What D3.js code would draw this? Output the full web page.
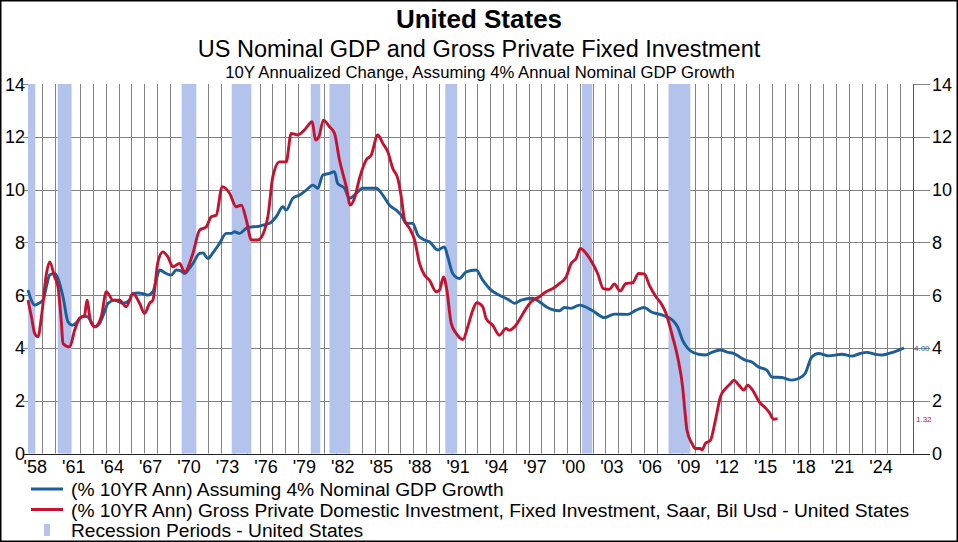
<!DOCTYPE html>
<html><head><meta charset="utf-8">
<script src="https://cdn.jsdelivr.net/npm/d3@7/dist/d3.min.js"></script>
<style>
html,body{margin:0;padding:0;background:#fff;}
svg{display:block;font-family:"Liberation Sans",Arial,sans-serif;}
</style></head>
<body><svg id="c" width="958" height="542"></svg>
<script>
// ---- data ----
const gdpYears = [1957.93,1958.2,1958.45,1958.75,1959.1,1959.4,1959.62,1960.0,1960.27,1960.66,1961.05,1961.39,1961.7,1961.96,1962.3,1962.6,1962.9,1963.13,1963.52,1963.85,1964.17,1964.7,1965.0,1965.34,1965.86,1966.1,1966.5,1966.9,1967.29,1967.68,1967.95,1968.2,1968.72,1969.1,1969.5,1969.8,1970.15,1970.5,1970.8,1971.32,1971.58,1971.97,1972.36,1972.88,1973.4,1973.8,1974.05,1974.44,1974.96,1975.48,1975.9,1976.26,1976.78,1977.3,1977.82,1978.08,1978.6,1979.12,1979.65,1980.16,1980.55,1980.94,1981.46,1981.85,1982.1,1982.63,1983.02,1983.41,1984.06,1984.58,1985.1,1985.62,1986.14,1986.67,1987.06,1987.45,1987.96,1988.35,1988.87,1989.26,1989.91,1990.43,1990.69,1991.08,1991.6,1992.13,1992.9,1993.42,1994.07,1994.72,1995.5,1995.9,1996.42,1997.32,1997.85,1998.37,1999.4,1999.8,2000.3,2000.96,2002.0,2002.91,2003.69,2004.73,2005.38,2006.03,2006.55,2007.46,2008.24,2008.63,2009.02,2009.4,2009.75,2010.27,2010.8,2011.3,2011.95,2012.6,2012.99,2013.5,2013.9,2014.42,2014.94,2015.59,2015.98,2016.76,2017.54,2018.07,2018.58,2019.1,2019.63,2020.4,2021.45,2022.23,2022.88,2023.4,2024.05,2024.6,2025.12,2025.9,2026.3];
const gdpValues = [6.19,5.8,5.62,5.68,5.81,6.4,6.76,6.82,6.63,5.94,4.99,4.86,4.95,5.12,5.2,5.18,4.95,4.8,4.93,5.3,5.69,5.81,5.75,5.69,5.81,6.06,6.08,6.06,6.0,6.13,6.6,6.95,6.82,6.76,6.95,6.93,6.82,7.0,7.2,7.58,7.6,7.39,7.6,7.96,8.34,8.34,8.4,8.34,8.53,8.59,8.6,8.65,8.72,8.97,9.35,9.22,9.67,9.79,9.98,10.17,10.05,10.55,10.61,10.68,10.23,10.05,9.67,9.79,10.05,10.05,10.05,9.79,9.41,9.22,9.03,8.72,8.72,8.28,8.09,8.02,7.71,7.83,7.45,6.82,6.63,6.88,6.95,6.57,6.19,6.0,5.81,5.69,5.81,5.88,5.75,5.56,5.41,5.53,5.5,5.62,5.41,5.15,5.28,5.27,5.43,5.53,5.37,5.24,5.05,4.8,4.29,4.0,3.85,3.76,3.73,3.83,3.92,3.83,3.79,3.65,3.54,3.47,3.28,3.16,2.9,2.88,2.78,2.84,3.03,3.66,3.79,3.7,3.76,3.69,3.79,3.83,3.76,3.73,3.79,3.92,4.0];

const invYears = [1957.93,1958.2,1958.45,1958.71,1958.98,1959.37,1959.62,1960.01,1960.27,1960.54,1960.66,1961.18,1961.57,1961.96,1962.35,1962.53,1962.8,1963.13,1963.65,1964.04,1964.56,1965.08,1965.6,1966.12,1966.64,1967.03,1967.42,1967.68,1968.07,1968.46,1968.85,1969.24,1969.76,1970.15,1970.8,1971.32,1971.85,1972.23,1972.62,1973.09,1973.66,1974.18,1974.58,1974.97,1975.36,1975.87,1976.39,1976.65,1977.04,1977.56,1978.08,1978.47,1978.99,1979.51,1980.11,1980.37,1980.63,1980.99,1981.46,1981.85,1982.24,1982.77,1983.08,1983.41,1983.8,1984.32,1984.72,1985.23,1985.62,1986.01,1986.4,1986.79,1987.06,1987.32,1987.71,1988.1,1988.49,1988.87,1989.26,1989.78,1990.04,1990.36,1990.62,1990.96,1991.35,1991.87,1992.25,1992.64,1992.96,1993.42,1993.68,1994.2,1994.72,1995.24,1995.5,1995.9,1996.42,1996.81,1997.2,1997.85,1998.37,1998.89,1999.4,1999.93,2000.32,2000.71,2001.04,2001.49,2002.0,2002.39,2002.83,2003.3,2003.69,2004.14,2004.6,2005.12,2005.59,2006.03,2006.42,2006.94,2007.33,2007.72,2008.24,2008.63,2009.02,2009.2,2009.36,2009.75,2010.0,2010.4,2010.53,2010.8,2011.19,2011.58,2011.97,2012.37,2012.76,2013.02,2013.41,2013.8,2014.09,2014.48,2015.0,2015.52,2015.83,2016.1,2016.43];
const invValues = [5.81,5.18,4.55,4.42,5.18,6.82,7.26,6.69,6.32,4.93,4.17,4.04,4.67,5.12,5.24,5.81,5.05,4.8,5.18,6.13,5.81,5.81,5.56,6.06,5.69,5.31,5.69,5.81,7.26,7.64,7.45,7.07,7.2,6.88,7.58,8.46,8.59,8.97,9.03,10.11,9.86,9.35,9.41,8.84,8.09,8.09,8.46,8.97,10.49,11.05,11.05,12.13,12.07,12.26,12.57,11.88,12.0,12.63,12.38,12.13,11.12,10.11,9.41,9.67,10.42,11.12,11.31,12.07,11.75,11.43,10.8,10.42,9.73,8.84,8.53,8.09,7.2,6.76,6.57,6.13,6.19,6.69,6.19,4.93,4.55,4.32,4.8,5.43,5.71,5.56,5.12,4.86,4.48,4.74,4.67,4.8,5.18,5.5,5.75,5.94,6.13,6.25,6.44,6.69,7.2,7.39,7.77,7.58,7.2,6.82,6.25,6.22,6.42,6.16,6.44,6.47,6.82,6.8,6.38,5.94,5.69,5.31,4.42,3.66,2.52,1.6,0.88,0.38,0.19,0.19,0.13,0.38,0.5,1.26,2.15,2.46,2.65,2.78,2.59,2.4,2.59,2.4,1.96,1.71,1.52,1.3,1.32];

const recessionStarts = [1957.6,1960.25,1969.92,1973.83,1980.0,1981.46,1990.5,2001.17,2007.92];
const recessionEnds   = [1958.5,1961.33,1971.07,1975.36,1980.74,1983.08,1991.42,2001.96,2009.62];

const yTicks = [0,2,4,6,8,10,12,14];
const xLabelYears = d3.range(1958, 2025, 3);
const gridYears = d3.range(1959, 2027, 1);

const titleText = "United States";
const subtitleText = "US Nominal GDP and Gross Private Fixed Investment";
const subsubText = "10Y Annualized Change, Assuming 4% Annual Nominal GDP Growth";
const legendLabels = ["(% 10YR Ann) Assuming 4% Nominal GDP Growth",
  "(% 10YR Ann) Gross Private Domestic Investment, Fixed Investment, Saar, Bil Usd - United States",
  "Recession Periods - United States"];
const lastLabels = ["4.00","1.32"];

// ---- drawing ----
const svg = d3.select("#c");
const W = 958, H = 542;
const L = 28, R = 913, T = 84, B = 453.5;
const x = d3.scaleLinear().domain([1957.93, 2027]).range([L, R]);
const y = d3.scaleLinear().domain([0, 14]).range([B, T]);
const blue = "#1c5e96", red = "#c4122f", recFill = "#b4c3eb", gridC = "#828282";

svg.append("rect").attr("x",0).attr("y",0).attr("width",W).attr("height",H).attr("fill","#fff");

// vertical grid
svg.append("g").selectAll("line").data(gridYears).join("line")
  .attr("x1", d => Math.round(x(d)) + 0.5).attr("x2", d => Math.round(x(d)) + 0.5)
  .attr("y1", T).attr("y2", B).attr("stroke", gridC).attr("stroke-width", 1);

// horizontal grid (not at top) + ticks
svg.append("g").selectAll("line").data(yTicks.filter(d => d > 0 && d < 14)).join("line")
  .attr("x1", L - 5).attr("x2", R + 17)
  .attr("y1", d => Math.round(y(d)) + 0.5).attr("y2", d => Math.round(y(d)) + 0.5)
  .attr("stroke", gridC).attr("stroke-width", 1);
const topY = Math.round(y(14)) + 0.5;
svg.append("line").attr("x1", L - 5).attr("x2", L).attr("y1", topY).attr("y2", topY).attr("stroke", gridC);
svg.append("line").attr("x1", R).attr("x2", R + 17).attr("y1", topY).attr("y2", topY).attr("stroke", gridC);

// recessions (drawn over the grid)
svg.append("g").selectAll("rect").data(recessionStarts).join("rect")
  .attr("x", (d) => x(Math.max(d, 1957.93)))
  .attr("width", (d,i) => x(recessionEnds[i]) - x(Math.max(d, 1957.93)))
  .attr("y", T).attr("height", B - T).attr("fill", recFill);

// right axis
svg.append("line").attr("x1", R + 0.5).attr("x2", R + 0.5).attr("y1", T).attr("y2", B)
  .attr("stroke", "#555").attr("stroke-width", 1);
// bottom axis
svg.append("line").attr("x1", L - 5).attr("x2", R + 17).attr("y1", Math.round(B) + 0.5).attr("y2", Math.round(B) + 0.5)
  .attr("stroke", "#222").attr("stroke-width", 1);

// y labels
const yl = svg.append("g").attr("font-size", 18).attr("fill", "#000");
yl.selectAll("text.l").data(yTicks).join("text").attr("class","l")
  .attr("x", L - 3).attr("y", d => y(d) + 6.5).attr("text-anchor","end").text(d => d);
yl.selectAll("text.r").data(yTicks).join("text").attr("class","r")
  .attr("x", R + 19).attr("y", d => y(d) + 6.5).attr("text-anchor","start").text(d => d);

// x labels
svg.append("g").selectAll("text").data(xLabelYears).join("text")
  .attr("x", d => x(d + 0.5)).attr("y", 473).attr("text-anchor","middle")
  .attr("font-size", 18).attr("fill","#000")
  .text(d => "'" + String(d % 100).padStart(2, "0"));

// lines
const line = d3.line().x(d => x(d[0])).y(d => y(d[1])).curve(d3.curveMonotoneX);
const gdp = gdpYears.map((d,i) => [d, gdpValues[i]]);
const inv = invYears.map((d,i) => [d, invValues[i]]);
svg.append("path").datum(gdp).attr("d", line).attr("fill","none").attr("stroke", blue)
  .attr("stroke-width", 2.9).attr("stroke-linejoin","round");
svg.append("path").datum(inv).attr("d", line).attr("fill","none").attr("stroke", red)
  .attr("stroke-width", 2.9).attr("stroke-linejoin","round");

// last value labels
svg.append("text").attr("x", R + 1).attr("y", y(gdpValues[gdpValues.length-1]) + 3)
  .attr("font-size", 8).attr("fill", blue).text(lastLabels[0]);
svg.append("text").attr("x", R + 3).attr("y", y(invValues[invValues.length-1]) + 3)
  .attr("font-size", 8).attr("fill", red).text(lastLabels[1]);

// titles
svg.append("text").attr("x", 479).attr("y", 28).attr("text-anchor","middle")
  .attr("font-size", 26).attr("font-weight","bold").text(titleText);
svg.append("text").attr("x", 479).attr("y", 57).attr("text-anchor","middle")
  .attr("font-size", 23.5).text(subtitleText);
svg.append("text").attr("x", 480).attr("y", 78).attr("text-anchor","middle")
  .attr("font-size", 16.7).text(subsubText);

// legend
const lg = svg.append("g").attr("font-size", 19.2).attr("fill","#000");
const legY = [489, 509.5, 530];
lg.append("line").attr("x1",31).attr("x2",63).attr("y1",legY[0]).attr("y2",legY[0]).attr("stroke",blue).attr("stroke-width",3);
lg.append("line").attr("x1",31).attr("x2",63).attr("y1",legY[1]).attr("y2",legY[1]).attr("stroke",red).attr("stroke-width",3);
lg.append("rect").attr("x",44).attr("y",legY[2]-6).attr("width",6).attr("height",12).attr("fill",recFill);
lg.selectAll("text").data(legendLabels).join("text")
  .attr("x", 71).attr("y", (d,i) => legY[i] + 7).text(d => d);

// outer border
svg.append("rect").attr("x",0.75).attr("y",0.75).attr("width",W-1.5).attr("height",H-1.5)
  .attr("fill","none").attr("stroke","#000").attr("stroke-width",1.5);
</script></body></html>
